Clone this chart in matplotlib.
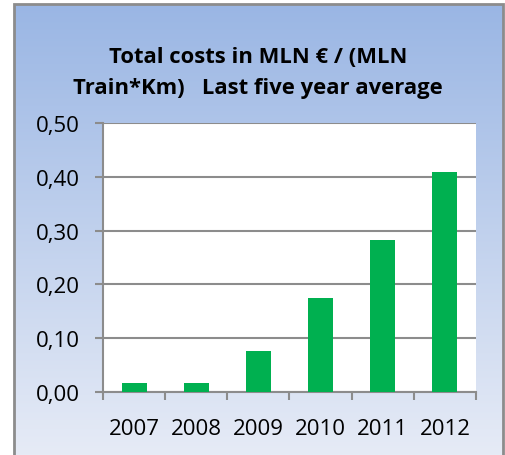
import numpy as np
import matplotlib.pyplot as plt
from matplotlib.patches import Rectangle

years = ['2007', '2008', '2009', '2010', '2011', '2012']
costs = [0.016, 0.017, 0.076, 0.175, 0.283, 0.408]
yticks = [0.0, 0.1, 0.2, 0.3, 0.4, 0.5]
ylabels = ['0,00', '0,10', '0,20', '0,30', '0,40', '0,50']

plt.rcParams['font.family'] = ['Open Sans', 'DejaVu Sans']

W, H = 506, 456
fig = plt.figure(figsize=(W / 100, H / 100), dpi=100, facecolor='white')

# gradient background of the chart box
bg = fig.add_axes([0, 0, 1, 1], zorder=0)
grad = np.linspace(0, 1, 256).reshape(-1, 1)
top = np.array([0x9a, 0xb6, 0xe4]) / 255
bot = np.array([0xe6, 0xeb, 0xf6]) / 255
img = top + (bot - top) * grad[:, :, None]
x0, x1 = 14 / W, 503 / W
y1 = 1 - 5 / H
bg.imshow(img, extent=[x0, x1, 0, y1], aspect='auto', origin='upper')
bg.add_patch(Rectangle((x0, -0.01), x1 - x0, y1 + 0.01, fill=False,
                       edgecolor='#8c8c8c', linewidth=2))
bg.set_xlim(0, 1)
bg.set_ylim(0, 1)
bg.axis('off')

ax = fig.add_axes([103 / W, 1 - 393 / H, (476 - 103) / W, (393 - 124) / H], zorder=1)
ax.set_facecolor('white')
x = np.arange(len(years))
ax.bar(x, costs, width=0.4, color='#00b050', zorder=3)

ax.set_ylim(0, 0.5)
ax.set_xlim(-0.5, len(years) - 0.5)
ax.set_yticks(yticks)
ax.set_yticklabels(ylabels, fontsize=16)
ax.set_xticks(x)
ax.set_xticklabels(years, fontsize=16)
ax.set_xticks(np.arange(-0.5, len(years)), minor=True)
ax.tick_params(axis='x', which='major', length=0, pad=19)
ax.tick_params(axis='x', which='minor', length=6, width=1.5, color='#8c8c8c')
ax.tick_params(axis='y', length=6, width=1.5, color='#8c8c8c', pad=11)
ax.grid(axis='y', color='#8c8c8c', linewidth=1.5, zorder=0)
for s in ['top', 'right']:
    ax.spines[s].set_visible(False)
for s in ['left', 'bottom']:
    ax.spines[s].set_color('#8c8c8c')
    ax.spines[s].set_linewidth(1.5)

fig.text(258 / W, 1 - 73 / H, 'Total costs in MLN \u20ac / (MLN\nTrain*Km)   Last five year average',
         ha='center', va='center', fontsize=15.8, fontweight='bold', linespacing=1.6)

fig.savefig('out.png', dpi=100)
